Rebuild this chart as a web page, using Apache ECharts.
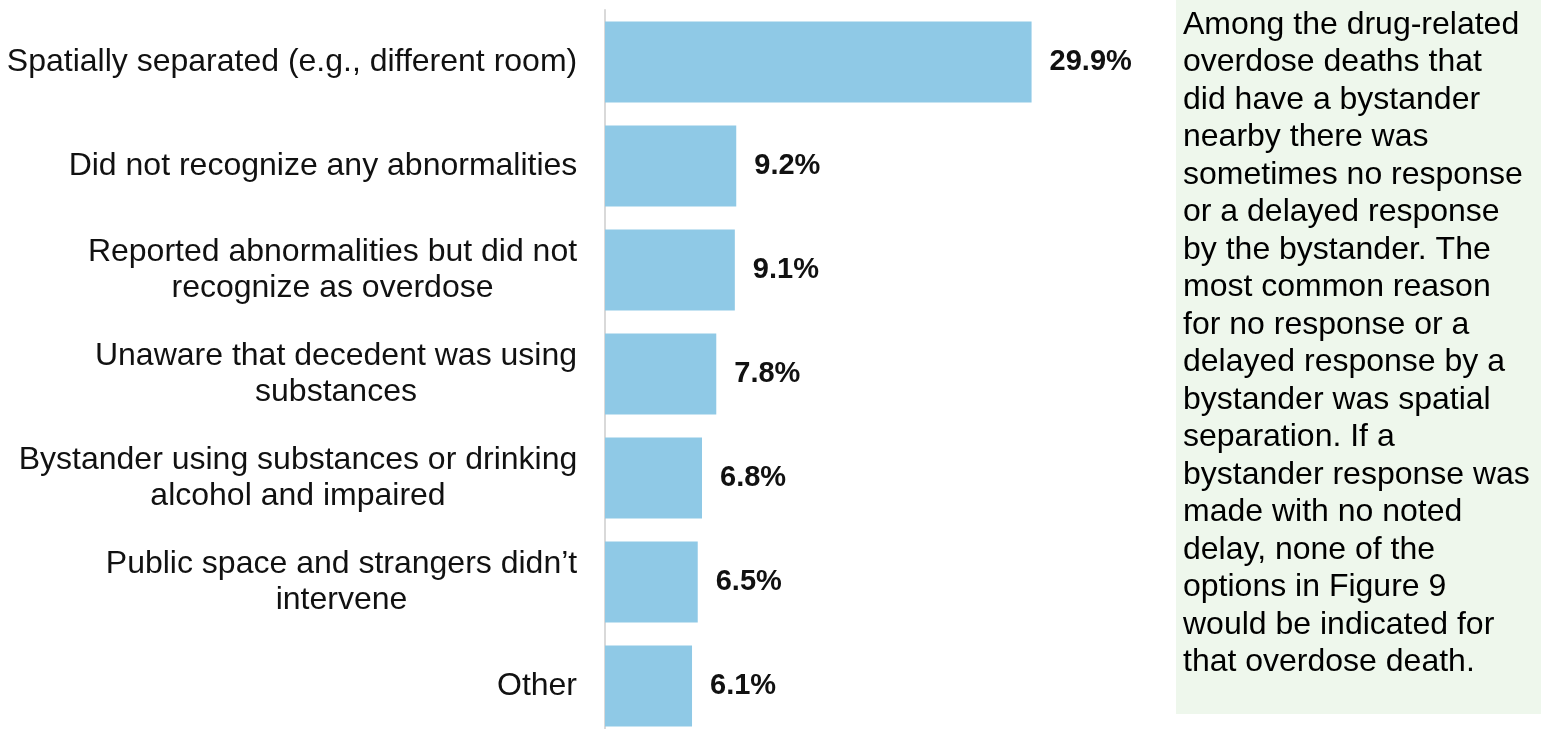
<!DOCTYPE html>
<html>
<head>
<meta charset="utf-8">
<script src="https://cdn.jsdelivr.net/npm/echarts@6/dist/echarts.min.js"></script>
<style>
html,body{margin:0;padding:0;background:#fff;overflow:hidden;}
#chart{width:1550px;height:740px;}
</style>
</head>
<body>
<div id="chart"></div>
<script>
const categories = [
  "Spatially separated (e.g., different room)",
  "Did not recognize any abnormalities",
  "Reported abnormalities but did not\nrecognize as overdose",
  "Unaware that decedent was using\nsubstances",
  "Bystander using substances or drinking\nalcohol and impaired",
  "Public space and strangers didn\u2019t\nintervene",
  "Other"
];
const values = [29.9, 9.2, 9.1, 7.8, 6.8, 6.5, 6.1];
const noteLines = [
  "Among the drug-related",
  "overdose deaths that",
  "did have a bystander",
  "nearby there was",
  "sometimes no response",
  "or a delayed response",
  "by the bystander. The",
  "most common reason",
  "for no response or a",
  "delayed response by a",
  "bystander was spatial",
  "separation. If a",
  "bystander response was",
  "made with no noted",
  "delay, none of the",
  "options in Figure 9",
  "would be indicated for",
  "that overdose death."
];

const FONT = '"Liberation Sans", Arial, sans-serif';
const CAT_SIZE = 32;

// measure label blocks so multi-line labels are centred within a right-aligned block
const ctx = document.createElement('canvas').getContext('2d');
ctx.font = CAT_SIZE + 'px ' + FONT;
const rich = {};
categories.forEach((c, i) => {
  const w = Math.max.apply(null, c.split('\n').map(s => ctx.measureText(s).width));
  rich['r' + i] = {width: Math.ceil(w) + 1, align: 'center', fontFamily: FONT, fontSize: CAT_SIZE, lineHeight: 36, color: '#111'};
});

const chart = echarts.init(document.getElementById('chart'), null, {renderer: 'canvas'});
chart.setOption({
  animation: false,
  backgroundColor: '#ffffff',
  grid: {left: 605, top: 10, width: 428, height: 728, containLabel: false},
  xAxis: {type: 'value', min: 0, max: 30, show: false},
  yAxis: {
    type: 'category',
    data: categories,
    inverse: true,
    axisLine: {show: true, lineStyle: {color: '#d9d9d9', width: 2}},
    axisTick: {show: false},
    axisLabel: {
      margin: 27, align: 'right', rich: rich,
      fontFamily: FONT, fontSize: CAT_SIZE, lineHeight: 36, color: '#111',
      formatter: (v, i) => v.split('\n').map(s => '{r' + i + '|' + s + '}').join('\n')
    }
  },
  series: [{
    type: 'bar',
    data: values,
    barCategoryGap: '22%',
    itemStyle: {color: '#8fc9e6'},
    label: {
      show: true, position: 'right', distance: 18,
      formatter: p => p.value.toFixed(1) + '%',
      fontFamily: FONT, fontWeight: 'bold', fontSize: 29, color: '#111'
    }
  }],
  graphic: [
    {type: 'rect', left: 1176, top: 0, shape: {width: 365, height: 714}, style: {fill: '#eef7ec'}},
    {type: 'text', left: 1183, top: 6, style: {
      text: noteLines.join('\n'), fontFamily: FONT, fontSize: 32, lineHeight: 37.5, fill: '#000'
    }}
  ]
});
</script>
</body>
</html>
